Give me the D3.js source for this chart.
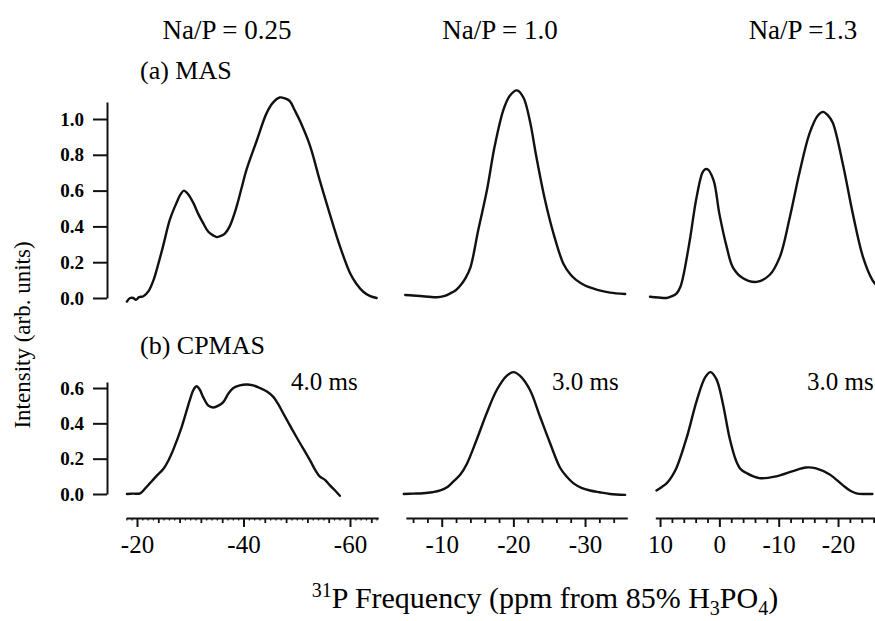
<!DOCTYPE html>
<html><head><meta charset="utf-8">
<script src="https://cdn.jsdelivr.net/npm/d3@7"></script>
<style>
body{margin:0;background:#fff}
svg{display:block}
svg text{font-family:"Liberation Serif","Times New Roman","DejaVu Serif",serif !important;fill:#000}
</style>
</head><body>
<svg id="chart" width="875" height="621" style="font-family:'Liberation Serif',serif"></svg>
<script>
// ---------------- data ----------------
const ratioTitles = ["Na/P = 0.25", "Na/P = 1.0", "Na/P =1.3"];
const contactTimes = ["4.0 ms", "3.0 ms", "3.0 ms"];
const rowLabels = ["(a) MAS", "(b) CPMAS"];

const yTicksMAS = [0, 0.2, 0.4, 0.6, 0.8, 1.0];
const yTicksCP = [0, 0.2, 0.4, 0.6];
const yMaxMAS = 1.095, yMaxCP = 0.634;

const xDomain1 = [-18, -65.3], xMajor1 = [-20, -40, -60];
const xDomain2 = [-5, -35.9],  xMajor2 = [-10, -20, -30];
const xDomain3 = [10.8, -26.3], xMajor3 = [10, 0, -10, -20];

// (a) MAS spectra
const mas025Ppm = [-18.1,-18.7,-19.3,-19.8,-20.4,-21.2,-22.2,-23.1,-24.0,-24.9,-26.2,-27.4,-28.2,-28.8,-29.6,-30.6,-31.5,-32.4,-33.4,-34.3,-35.0,-35.6,-36.5,-37.4,-38.7,-39.6,-40.6,-42.5,-44.3,-45.5,-46.8,-47.8,-48.7,-49.6,-50.6,-52.5,-54.3,-56.2,-58.1,-60.0,-61.2,-62.5,-63.8,-65.0];
const mas025Int = [-0.02,0.0,0.0,-0.01,0.005,0.01,0.04,0.10,0.19,0.29,0.44,0.53,0.58,0.60,0.58,0.53,0.47,0.42,0.37,0.35,0.34,0.345,0.36,0.40,0.51,0.61,0.72,0.88,1.03,1.09,1.12,1.115,1.10,1.05,0.99,0.85,0.66,0.47,0.29,0.14,0.08,0.035,0.01,0.0];

const mas10Ppm = [-4.9,-6.0,-7.0,-8.2,-9.3,-10.3,-11.2,-12.0,-12.6,-13.3,-14.0,-15.1,-16.3,-17.4,-18.6,-19.5,-20.5,-21.4,-22.3,-23.2,-24.4,-25.6,-27.0,-28.0,-28.8,-30.0,-31.1,-32.3,-33.5,-35.6];
const mas10Int = [0.017,0.014,0.011,0.007,0.004,0.01,0.026,0.045,0.07,0.11,0.17,0.38,0.60,0.85,1.05,1.13,1.16,1.12,0.99,0.79,0.55,0.36,0.19,0.13,0.10,0.07,0.054,0.04,0.03,0.022];

const mas13Ppm = [11.7,10.3,8.9,8.0,7.2,6.6,6.1,5.0,3.8,2.7,2.05,1.0,0.0,-1.2,-2.3,-4.0,-6.3,-8.5,-10.2,-11.8,-13.5,-15.2,-16.6,-17.5,-18.3,-19.1,-20.8,-22.5,-24.2,-25.8,-26.5];
const mas13Int = [0.007,0.003,0.0,0.01,0.026,0.06,0.12,0.32,0.57,0.71,0.72,0.66,0.47,0.29,0.17,0.11,0.09,0.13,0.23,0.44,0.70,0.92,1.02,1.04,1.02,0.98,0.75,0.47,0.23,0.10,0.07];

// (b) CPMAS spectra
const cp025Ppm = [-18.1,-19.3,-20.6,-21.5,-22.4,-23.6,-24.9,-25.9,-26.8,-28.4,-29.9,-30.6,-31.2,-31.8,-32.4,-33.4,-34.3,-35.3,-36.2,-37.2,-38.1,-39.3,-40.6,-41.8,-43.1,-44.4,-45.6,-46.5,-47.4,-50.0,-52.5,-53.4,-54.3,-55.3,-56.2,-57.2,-58.1];
const cp025Int = [0.0,0.002,0.004,0.03,0.06,0.10,0.14,0.19,0.25,0.38,0.53,0.59,0.61,0.59,0.55,0.50,0.49,0.50,0.52,0.57,0.60,0.615,0.62,0.615,0.60,0.58,0.55,0.51,0.46,0.32,0.19,0.14,0.10,0.08,0.05,0.02,-0.01];

const cp10Ppm = [-4.7,-6.0,-7.4,-8.7,-9.8,-10.8,-11.6,-12.6,-13.5,-14.9,-16.3,-17.7,-19.1,-20.0,-20.9,-22.3,-23.7,-25.1,-26.5,-27.4,-28.4,-29.5,-30.7,-32.0,-33.5,-35.6];
const cp10Int = [0.0,0.002,0.004,0.01,0.02,0.04,0.07,0.11,0.17,0.31,0.46,0.59,0.67,0.69,0.67,0.59,0.44,0.29,0.15,0.10,0.06,0.035,0.02,0.01,0.0,-0.005];

const cp13Ppm = [10.6,9.7,8.9,8.0,7.2,5.5,3.8,2.4,1.5,0.5,-0.6,-1.7,-2.8,-3.6,-4.5,-6.7,-9.6,-12.4,-14.6,-16.3,-18.6,-20.8,-22.0,-23.1,-24.5,-25.8];
const cp13Int = [0.02,0.04,0.06,0.10,0.15,0.32,0.53,0.66,0.69,0.65,0.51,0.32,0.19,0.14,0.12,0.09,0.10,0.13,0.15,0.145,0.11,0.05,0.02,0.004,0.0,0.0];

// ---------------- layout ----------------
const FONT = "'Liberation Serif', 'Times New Roman', serif";
const svg = d3.select("#chart");
const axisX = 107;
const xAxisY = 518;
const panelRanges = [[126.35, 378.2], [405.9, 627.3], [655.3, 875.4]];
const domains = [xDomain1, xDomain2, xDomain3];
const majors = [xMajor1, xMajor2, xMajor3];
const minorSteps = [4, 2, 2];

const xScales = domains.map((d, i) => d3.scaleLinear().domain(d).range(panelRanges[i]));
const yMAS = d3.scaleLinear().domain([0, yMaxMAS]).range([298, 102]);
const yCP = d3.scaleLinear().domain([0, yMaxCP]).range([494, 382]);

const ink = "#111";

// y axes
function yAxis(scale, ticks) {
  const g = svg.append("g").attr("transform", `translate(${axisX},0)`)
    .call(d3.axisLeft(scale).tickValues(ticks).tickSize(14).tickSizeOuter(0).tickPadding(9)
      .tickFormat(d3.format(".1f")));
  g.attr("font-family", FONT);
  g.selectAll("path,line").attr("stroke", ink).attr("stroke-width", 2);
  g.selectAll("text").attr("font-size", 19).attr("font-weight", "bold")
    .style("font-family", FONT).attr("fill", ink);
}
yAxis(yMAS, yTicksMAS);
yAxis(yCP, yTicksCP);

// x axes
xScales.forEach((x, i) => {
  const [a, b] = domains[i];
  const lo = Math.min(a, b), hi = Math.max(a, b);
  const step = minorSteps[i];
  const minor = d3.range(Math.ceil(lo / step) * step, hi + 1e-9, step).filter(v => !majors[i].includes(v));
  const gMinor = svg.append("g").attr("transform", `translate(0,${xAxisY})`)
    .call(d3.axisBottom(x).tickValues(minor).tickSize(5).tickSizeOuter(0).tickFormat(""));
  gMinor.select(".domain").remove();
  gMinor.selectAll("line").attr("stroke", ink).attr("stroke-width", 1.8);
  if (i === 0) {
    const tiny = d3.range(Math.ceil(lo), hi + 1e-9, 1).filter(v => v % step !== 0);
    const gt = svg.append("g").attr("transform", `translate(0,${xAxisY})`)
      .call(d3.axisBottom(x).tickValues(tiny).tickSize(2.5).tickSizeOuter(0).tickFormat(""));
    gt.select(".domain").remove();
    gt.selectAll("line").attr("stroke", ink).attr("stroke-width", 1.2);
  }
  const g = svg.append("g").attr("transform", `translate(0,${xAxisY})`)
    .call(d3.axisBottom(x).tickValues(majors[i]).tickSize(9).tickSizeOuter(0).tickPadding(8)
      .tickFormat(d => String(d)));
  g.attr("font-family", FONT);
  g.selectAll("path,line").attr("stroke", ink).attr("stroke-width", 2);
  g.selectAll("text").attr("font-size", 25).style("font-family", FONT).attr("fill", ink);
});

// spectra
const masSets = [[mas025Ppm, mas025Int], [mas10Ppm, mas10Int], [mas13Ppm, mas13Int]];
const cpSets = [[cp025Ppm, cp025Int], [cp10Ppm, cp10Int], [cp13Ppm, cp13Int]];
function drawCurve(set, i, yScale) {
  const pts = set[0].map((p, k) => [p, set[1][k]]);
  const line = d3.line().x(d => xScales[i](d[0])).y(d => yScale(d[1])).curve(d3.curveCatmullRom.alpha(0.5));
  svg.append("path").datum(pts).attr("d", line).attr("fill", "none")
    .attr("stroke", ink).attr("stroke-width", 2.4).attr("stroke-linejoin", "round").attr("stroke-linecap", "round");
}
masSets.forEach((s, i) => drawCurve(s, i, yMAS));
cpSets.forEach((s, i) => drawCurve(s, i, yCP));

// texts
function txt(x, y, size, s, anchor) {
  return svg.append("text").attr("x", x).attr("y", y).attr("font-size", size)
    .attr("text-anchor", anchor || "start").style("font-family", FONT).text(s);
}
const titleX = [227, 500, 803];
ratioTitles.forEach((t, i) => txt(titleX[i], 39, 27, t, "middle"));
txt(140, 79, 26, rowLabels[0]);
txt(140, 354, 26, rowLabels[1]);

const ctX = [291, 552, 807];
contactTimes.forEach((t, i) => txt(ctX[i], 390, 25, t));

txt(-335, 30, 23, "Intensity (arb. units)", "middle").attr("transform", "rotate(-90)");

const xt = txt(545, 608, 30, "", "middle");
xt.append("tspan").attr("font-size", 20).attr("dy", -11).text("31");
xt.append("tspan").attr("dy", 11).text("P Frequency (ppm from 85% H");
xt.append("tspan").attr("font-size", 20).attr("dy", 7).text("3");
xt.append("tspan").attr("dy", -7).text("PO");
xt.append("tspan").attr("font-size", 20).attr("dy", 7).text("4");
xt.append("tspan").attr("dy", -7).text(")");
</script>
</body></html>
